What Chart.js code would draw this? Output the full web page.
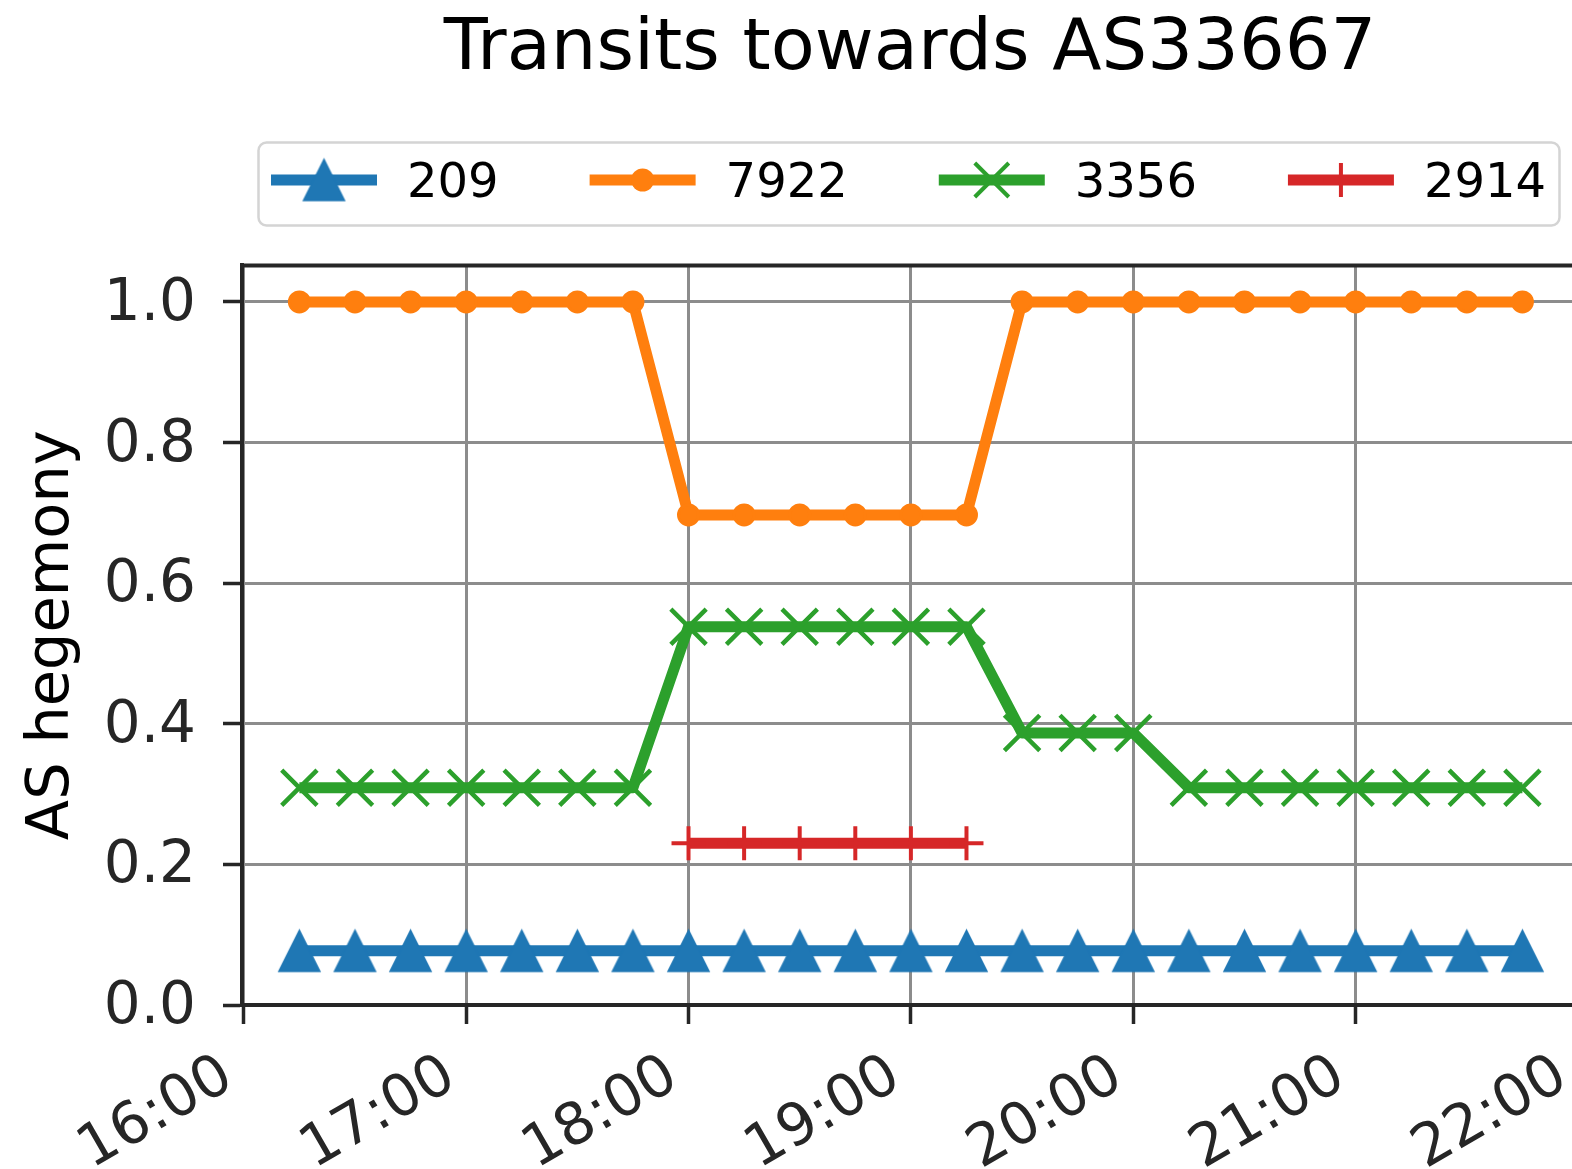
<!DOCTYPE html>
<html>
<head>
<meta charset="utf-8">
<script src="https://cdn.jsdelivr.net/npm/chart.js@4.4.1/dist/chart.umd.min.js"></script>
<style>
  html, body { margin: 0; padding: 0; background: #fff; overflow: hidden; width: 1572px; height: 1169px; }
  #wrap { position: absolute; left: 0; top: 0; width: 1600px; height: 1169px; }
  canvas { display: block; }
</style>
</head>
<body>
<div id="wrap"><canvas id="c" width="1600" height="1169"></canvas></div>
<script>
// ---------------- data ----------------
const titleText = 'Transits towards AS33667';
const yAxisLabel = 'AS hegemony';
const seriesNames = ['209', '7922', '3356', '2914'];
const seriesColors = ['#1f77b4', '#ff7f0e', '#2ca02c', '#d62728'];

const times = ['16:15', '16:30', '16:45', '17:00', '17:15', '17:30', '17:45',
               '18:00', '18:15', '18:30', '18:45', '19:00', '19:15',
               '19:30', '19:45', '20:00', '20:15', '20:30', '20:45',
               '21:00', '21:15', '21:30', '21:45'];

const as209  = [0.077, 0.077, 0.077, 0.077, 0.077, 0.077, 0.077,
                0.077, 0.077, 0.077, 0.077, 0.077, 0.077,
                0.077, 0.077, 0.077, 0.077, 0.077, 0.077,
                0.077, 0.077, 0.077, 0.077];
const as7922 = [1.0, 1.0, 1.0, 1.0, 1.0, 1.0, 1.0,
                0.697, 0.697, 0.697, 0.697, 0.697, 0.697,
                1.0, 1.0, 1.0, 1.0, 1.0, 1.0,
                1.0, 1.0, 1.0, 1.0];
const as3356 = [0.309, 0.309, 0.309, 0.309, 0.309, 0.309, 0.309,
                0.538, 0.538, 0.538, 0.538, 0.538, 0.538,
                0.387, 0.387, 0.387, 0.309, 0.309, 0.309,
                0.309, 0.309, 0.309, 0.309];
const as2914 = [null, null, null, null, null, null, null,
                0.230, 0.230, 0.230, 0.230, 0.230, 0.230,
                null, null, null, null, null, null,
                null, null, null, null];

const xTickLabels = ['16:00', '17:00', '18:00', '19:00', '20:00', '21:00', '22:00'];
const yTickValues = [0.0, 0.2, 0.4, 0.6, 0.8, 1.0];
const yTickLabels = ['0.0', '0.2', '0.4', '0.6', '0.8', '1.0'];

// ---------------- helpers ----------------
const FONT = '"DejaVu Sans", "Liberation Sans", sans-serif';
const toHours = t => { const [h, m] = t.split(':').map(Number); return h + m / 60; };
const pts = arr => times.map((t, i) => ({ x: toHours(t), y: arr[i] }));

// matplotlib-like '^' marker
function makeTriangle(color, size) {
  const c = document.createElement('canvas');
  const pad = 3;
  c.width = size + pad * 2; c.height = size + pad * 2;
  const g = c.getContext('2d');
  const cx = c.width / 2, cy = c.height / 2, h = size / 2;
  g.beginPath();
  g.moveTo(cx, cy - h);
  g.lineTo(cx - h, cy + h);
  g.lineTo(cx + h, cy + h);
  g.closePath();
  g.fillStyle = color; g.fill();
  g.lineWidth = 1.5; g.strokeStyle = color; g.lineJoin = 'miter'; g.stroke();
  return c;
}
const triImg = makeTriangle(seriesColors[0], 41);
const markerKinds = ['tri', 'circle', 'x', 'plus'];

function drawMarker(ctx, kind, x, y, color) {
  ctx.save();
  ctx.fillStyle = color; ctx.strokeStyle = color;
  if (kind === 'tri') {
    ctx.drawImage(triImg, x - triImg.width / 2, y - triImg.height / 2);
  } else if (kind === 'circle') {
    ctx.beginPath(); ctx.arc(x, y, 11.5, 0, Math.PI * 2); ctx.fill();
  } else if (kind === 'x') {
    ctx.lineWidth = 4; ctx.beginPath();
    ctx.moveTo(x - 17, y - 17); ctx.lineTo(x + 17, y + 17);
    ctx.moveTo(x + 17, y - 17); ctx.lineTo(x - 17, y + 17); ctx.stroke();
  } else if (kind === 'plus') {
    ctx.lineWidth = 4; ctx.beginPath();
    ctx.moveTo(x - 17, y); ctx.lineTo(x + 17, y);
    ctx.moveTo(x, y - 17); ctx.lineTo(x, y + 17); ctx.stroke();
  }
  ctx.restore();
}

// legend drawn in a framed box like matplotlib
const boxLegend = {
  id: 'boxLegend',
  afterLayout(chart) {
    // centre the title over the plot area, as matplotlib does
    if (chart.titleBlock) {
      chart.titleBlock.left = chart.chartArea.left;
      chart.titleBlock.right = chart.chartArea.right;
    }
  },
  afterDraw(chart) {
    const ctx = chart.ctx;
    ctx.save();
    ctx.beginPath();
    ctx.roundRect(258.5, 142.5, 1301, 83, 8);
    ctx.fillStyle = '#ffffff'; ctx.fill();
    ctx.strokeStyle = '#d4d4d4'; ctx.lineWidth = 2.5; ctx.stroke();
    ctx.font = '48px ' + FONT;
    ctx.textAlign = 'left'; ctx.textBaseline = 'alphabetic';
    let x = 271; const cy = 180;
    chart.data.datasets.forEach((ds, i) => {
      ctx.strokeStyle = ds.borderColor; ctx.lineWidth = 11; ctx.lineCap = 'butt';
      ctx.beginPath(); ctx.moveTo(x, cy); ctx.lineTo(x + 106, cy); ctx.stroke();
      drawMarker(ctx, markerKinds[i], x + 53, cy, ds.borderColor);
      ctx.fillStyle = '#000';
      ctx.fillText(ds.label, x + 136, 197);
      x += 136 + ctx.measureText(ds.label).width + 91;
    });
    ctx.restore();
  }
};

// top and right spines
const topSpine = {
  id: 'topSpine',
  afterDraw(chart) {
    const { ctx, chartArea } = chart;
    ctx.save();
    ctx.strokeStyle = '#262626'; ctx.lineWidth = 4;
    ctx.beginPath();
    ctx.moveTo(chartArea.left - 2, chartArea.top);
    ctx.lineTo(chartArea.right + 2, chartArea.top);
    ctx.moveTo(chartArea.right, chartArea.top);
    ctx.lineTo(chartArea.right, chartArea.bottom);
    ctx.stroke();
    ctx.restore();
  }
};

const common = { borderWidth: 11, borderJoinStyle: 'round', fill: false, tension: 0, spanGaps: false };

new Chart(document.getElementById('c'), {
  type: 'line',
  data: {
    datasets: [
      Object.assign({}, common, {
        label: seriesNames[0], data: pts(as209), order: 4,
        borderColor: seriesColors[0], backgroundColor: seriesColors[0],
        pointStyle: triImg, pointRadius: 21, pointHoverRadius: 21
      }),
      Object.assign({}, common, {
        label: seriesNames[1], data: pts(as7922), order: 3,
        borderColor: seriesColors[1], backgroundColor: seriesColors[1],
        pointStyle: 'circle', pointRadius: 10, pointBorderWidth: 3,
        pointBackgroundColor: seriesColors[1], pointBorderColor: seriesColors[1]
      }),
      Object.assign({}, common, {
        label: seriesNames[2], data: pts(as3356), order: 2,
        borderColor: seriesColors[2], backgroundColor: seriesColors[2],
        pointStyle: 'crossRot', pointRadius: 25, pointBorderWidth: 4.5,
        pointBorderColor: seriesColors[2]
      }),
      Object.assign({}, common, {
        label: seriesNames[3], data: pts(as2914), order: 1,
        borderColor: seriesColors[3], backgroundColor: seriesColors[3],
        pointStyle: 'cross', pointRadius: 17, pointBorderWidth: 4,
        pointBorderColor: seriesColors[3]
      })
    ]
  },
  options: {
    responsive: false,
    animation: false,
    devicePixelRatio: 1,
    layout: { autoPadding: false, padding: { left: 0, right: 22, top: 0, bottom: 0 } },
    plugins: {
      legend: { display: false },
      tooltip: { enabled: false },
      title: {
        display: true, text: titleText, color: '#000',
        font: { family: FONT, size: 72, weight: 'normal' },
        padding: { top: 7, bottom: 172 }
      }
    },
    scales: {
      x: {
        type: 'linear', min: 15.992, max: 22, bounds: 'data',
        afterBuildTicks: s => { s.ticks = xTickLabels.map(t => ({ value: toHours(t) })); },
        afterFit: s => { s.height = 164; s.paddingLeft = 0; s.paddingRight = 0; },
        ticks: {
          autoSkip: false, maxRotation: 30, minRotation: 30, padding: 18, labelOffset: -15,
          color: '#262626', font: { family: FONT, size: 58 },
          callback: (v, i) => xTickLabels[i]
        },
        grid: { color: '#8c8c8c', lineWidth: 3, tickLength: 19, tickColor: '#262626', tickWidth: 3.5 },
        border: { display: true, color: '#262626', width: 4 }
      },
      y: {
        type: 'linear', min: 0, max: 1.052, bounds: 'data',
        afterBuildTicks: s => { s.ticks = yTickValues.map(v => ({ value: v })); },
        afterFit: s => { s.width = 242; },
        ticks: {
          padding: 27, labelOffset: 3, color: '#262626', font: { family: FONT, size: 58 },
          callback: (v, i) => yTickLabels[i]
        },
        grid: { color: '#8c8c8c', lineWidth: 3, tickLength: 19, tickColor: '#262626', tickWidth: 3.5 },
        border: { display: true, color: '#262626', width: 4 },
        title: {
          display: true, text: yAxisLabel, color: '#000',
          font: { family: FONT, size: 59 }, padding: { top: 17, bottom: 0 }
        }
      }
    }
  },
  plugins: [boxLegend, topSpine]
});
</script>
</body>
</html>
